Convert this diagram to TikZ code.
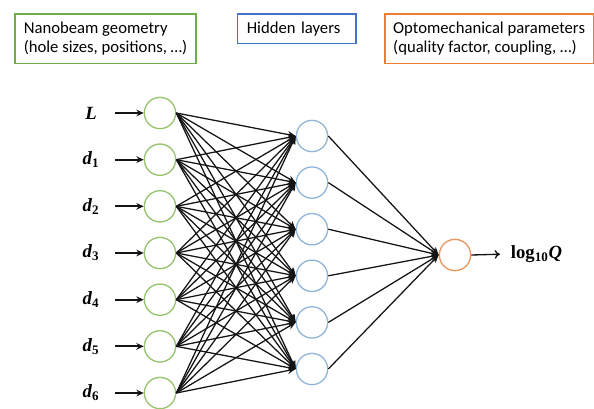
\documentclass[tikz,border=0pt]{standalone}
\usepackage{fontspec}
\setmainfont{Carlito}
\newfontfamily\tms{Liberation Serif}
\usetikzlibrary{arrows.meta}
\definecolor{boxgreen}{RGB}{112,173,71}
\definecolor{boxblue}{RGB}{68,114,196}
\definecolor{boxorange}{RGB}{237,125,49}
\definecolor{cgreen}{RGB}{150,195,110}
\definecolor{cblue}{RGB}{145,182,218}
\definecolor{corange}{RGB}{232,150,95}
\definecolor{edge}{RGB}{20,20,20}
\begin{document}
\begin{tikzpicture}[x=0.75pt,y=-0.75pt,
  legend/.style={draw,line width=1.2pt,anchor=north west,font=\fontsize{12.5}{14.3}\selectfont,align=left,inner sep=0pt},
  neuron/.style={circle,draw,line width=1pt,minimum size=23.5pt,inner sep=0pt},
  lbl/.style={font=\tms\bfseries\fontsize{14}{16}\selectfont},
  conn/.style={draw=edge,line width=0.95pt,-{Stealth[length=6pt,width=5pt]}},
  inarr/.style={draw=edge,line width=1.3pt,-{Stealth[length=5.5pt,width=5pt]}},
  outarr/.style={draw=edge,line width=1pt,-{To[length=4pt,width=6.5pt]},shorten >=6pt}]
\useasboundingbox (0,0) rectangle (594,408);
\node[legend,draw=boxgreen,minimum width=135.75pt,minimum height=37pt] (bg) at (14.3,13.3) {Nanobeam geometry\\(hole sizes, positions, …)};
\node[legend,draw=boxblue,minimum width=88.7pt,minimum height=22pt,inner xsep=7pt,text width=74.7pt] (bb) at (236.7,13.3) {Hidden layers};
\node[legend,draw=boxorange,minimum width=156.5pt,minimum height=37pt] (bo) at (384,13.3) {Optomechanical parameters\\(quality factor, coupling, …)};
% inputs
\foreach \n/\t [count=\k from 0] in {0/\textit{L},1/\textit{d}\textsubscript{1},2/\textit{d}\textsubscript{2},3/\textit{d}\textsubscript{3},4/\textit{d}\textsubscript{4},5/\textit{d}\textsubscript{5},6/\textit{d}\textsubscript{6}}{
  \node[neuron,draw=cgreen] (i\n) at (160,113+46.67*\k) {};
  \node[lbl] (t\n) at (91,113+46.67*\k) {\t};
  \coordinate (s\n) at (115,113+46.67*\k);
  \draw[inarr] (s\n) -- (i\n.west);
}
% hidden
\foreach \h in {0,...,5}{
  \node[neuron,draw=cblue] (h\h) at (312,136+46.6*\h) {};
}
\node[neuron,draw=corange] (o) at (455,255) {};
\node[lbl,anchor=west,inner xsep=2pt] (q) at (508,254) {log\textsubscript{10}\textit{Q}};
\foreach \n in {0,...,6}{
  \foreach \h in {0,...,5}{
    \draw[conn] (i\n.east) -- (h\h.west);
  }
}
\foreach \h in {0,...,5}{
  \draw[conn] (h\h.east) -- (o.west);
}
\draw[outarr] (o.east) -- (q.west);
\end{tikzpicture}
\end{document}
